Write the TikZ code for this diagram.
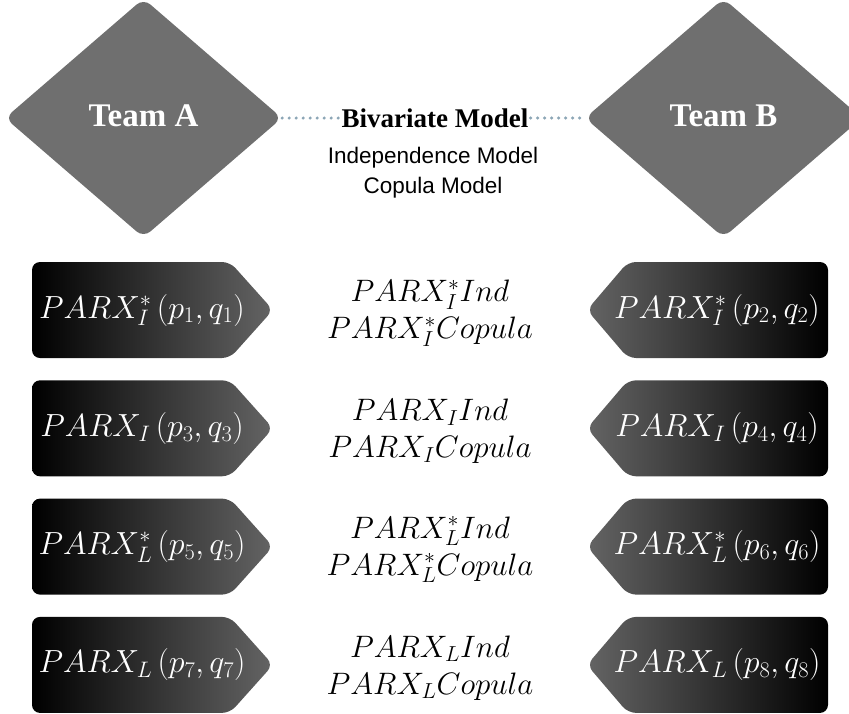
\documentclass[tikz,border=0pt]{standalone}
\usepackage{fix-cm}
\usepackage{fontspec}
\usetikzlibrary{shapes.geometric}
\newfontfamily\teamfont{Liberation Serif}
\newfontfamily\modelfont{Liberation Sans}
\definecolor{teamgray}{RGB}{111,111,111}
\definecolor{boxgray}{RGB}{100,100,100}
\definecolor{linkblue}{RGB}{140,166,182}

\begin{document}
\begin{tikzpicture}
    [x=1pt,y=-1pt,
     team/.style={diamond,aspect=1.16,fill=teamgray,rounded corners=9pt,
       minimum width=277pt,minimum height=239pt,inner sep=0pt,text=white,
       font=\teamfont\bfseries\fontsize{33}{36}\selectfont},
     link/.style={linkblue,line width=3.4pt,line cap=round,dash pattern=on 0pt off 7pt},
     leftbox/.style={rounded corners=8pt,left color=black,right color=boxgray},
     rightbox/.style={rounded corners=8pt,left color=boxgray,right color=black},
     parx/.style={text=white,font=\fontsize{32}{36}\selectfont},
     pair/.style={align=center,font=\fontsize{31}{37}\selectfont}]
  \useasboundingbox (0,0) rectangle (849,713);
  \node[team] (teamA) at (143.5,118) {\raisebox{4pt}{Team A}};
  \node[team] (teamB) at (723.5,118) {\raisebox{4pt}{Team B}};
  \node[inner sep=2pt,font=\teamfont\bfseries\fontsize{27}{30}\selectfont]
    (bivar) at (435,118) {Bivariate Model};
  \node[align=center,font=\modelfont\fontsize{22.5}{30}\selectfont]
    (kinds) at (433,173) {Independence Model\\Copula Model};
  \draw[link] (teamA.east) -- (bivar.west);
  \draw[link] (bivar.east) -- (teamB.west);
  \foreach \m/\a/\b [count=\r] in {PARX^*_I/1/2,PARX_I/3/4,PARX^*_L/5/6,PARX_L/7/8}{
    \pgfmathsetmacro\y{310+118.3*(\r-1)}
    \shade[leftbox] (32,\y-48) -- (230,\y-48) -- (273,\y) -- (230,\y+48) -- (32,\y+48) -- cycle;
    \shade[rightbox] (828,\y-48) -- (628,\y-48) -- (587,\y) -- (628,\y+48) -- (828,\y+48) -- cycle;
    \node[parx] (ta\r) at (142,\y) {$\m\,(p_{\a},q_{\a})$};
    \node[pair] (bm\r) at (430,\y+3) {$\m Ind$\\$\m Copula$};
    \node[parx] (tb\r) at (717,\y) {$\m\,(p_{\b},q_{\b})$};
  }
\end{tikzpicture}
\end{document}
